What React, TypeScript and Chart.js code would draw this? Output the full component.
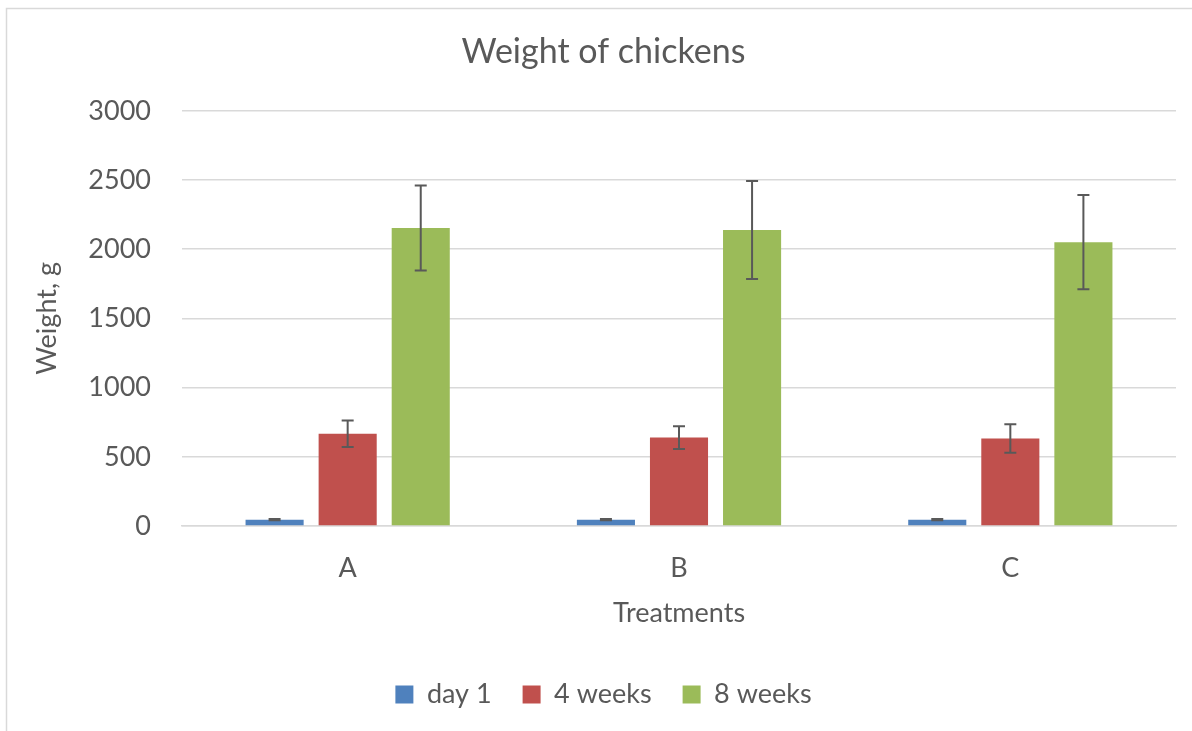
import React, { useEffect, useRef } from "react";
import { Chart, registerables } from "chart.js";

Chart.register(...registerables);

const chartTitle = "Weight of chickens";
const xAxisTitle = "Treatments";
const yAxisTitle = "Weight, g";
const categories = ["A", "B", "C"];
const seriesNames = ["day 1", "4 weeks", "8 weeks"];
const day1Values = [46, 46, 46];
const day1Errors = [4, 4, 4];
const week4Values = [666, 639, 632];
const week4Errors = [96, 82, 103];
const week8Values = [2154, 2138, 2051];
const week8Errors = [307, 354, 341];
const yMin = 0;
const yMax = 3000;
const yStep = 500;
const seriesColors = ["#4F81BD", "#C0504D", "#9BBB59"];

const FONT = "Lato, 'Open Sans', sans-serif";
const TEXT = "#595959";

const errorBarPlugin = {
  id: "errorBars",
  afterDatasetsDraw(chart: any) {
    const ctx = chart.ctx;
    const y = chart.scales.y;
    ctx.save();
    ctx.strokeStyle = "#595959";
    ctx.lineWidth = 2;
    chart.data.datasets.forEach((ds: any, di: number) => {
      const meta = chart.getDatasetMeta(di);
      if (meta.hidden) return;
      meta.data.forEach((bar: any, i: number) => {
        const v = ds.data[i];
        const e = ds.errors[i];
        const top = y.getPixelForValue(v + e);
        const bot = y.getPixelForValue(v - e);
        const x = bar.x;
        const cap = 6;
        ctx.beginPath();
        ctx.moveTo(x, top);
        ctx.lineTo(x, bot);
        ctx.moveTo(x - cap, top);
        ctx.lineTo(x + cap, top);
        ctx.moveTo(x - cap, bot);
        ctx.lineTo(x + cap, bot);
        ctx.stroke();
      });
    });
    ctx.restore();
  },
};

const framePlugin = {
  id: "frame",
  beforeDraw(chart: any) {
    const ctx = chart.ctx;
    ctx.save();
    ctx.fillStyle = "#ffffff";
    ctx.fillRect(0, 0, chart.width, chart.height);
    ctx.strokeStyle = "#D9D9D9";
    ctx.lineWidth = 1.5;
    ctx.beginPath();
    ctx.moveTo(6.5, chart.height);
    ctx.lineTo(6.5, 8.5);
    ctx.lineTo(chart.width, 8.5);
    ctx.stroke();
    ctx.restore();
  },
};

export default function App() {
  const ref = useRef<HTMLCanvasElement | null>(null);

  useEffect(() => {
    if (!ref.current) return;
    const valueSets = [day1Values, week4Values, week8Values];
    const errorSets = [day1Errors, week4Errors, week8Errors];
    const chart = new Chart(ref.current, {
      type: "bar",
      data: {
        labels: categories,
        datasets: seriesNames.map((name, i) => ({
          label: name,
          data: valueSets[i],
          errors: errorSets[i],
          backgroundColor: seriesColors[i],
          borderWidth: 0,
          categoryPercentage: 0.6616,
          barPercentage: 0.795,
        })) as any,
      },
      options: {
        responsive: false,
        animation: false,
        devicePixelRatio: 1,
        layout: { padding: { top: 0, left: 31, right: 16, bottom: 13 } },
        plugins: {
          title: {
            display: true,
            text: chartTitle,
            color: TEXT,
            font: { family: FONT, size: 34, weight: "normal" },
            padding: { top: 32, bottom: 38 },
          },
          legend: {
            position: "bottom",
            labels: {
              color: TEXT,
              font: { family: FONT, size: 27 },
              boxWidth: 18,
              boxHeight: 18,
              padding: 31,
            },
          },
          tooltip: { enabled: false },
        },
        scales: {
          x: {
            grid: { display: false, drawTicks: false },
            border: { display: true, color: "#D9D9D9", width: 1.5 },
            ticks: { color: TEXT, font: { family: FONT, size: 27 }, padding: 26 },
            title: {
              display: true,
              text: xAxisTitle,
              color: TEXT,
              font: { family: FONT, size: 27 },
              padding: { top: 0, bottom: 21 },
            },
            afterFit: (scale: any) => {
              scale.height = 124;
            },
          },
          y: {
            min: yMin,
            max: yMax,
            grid: { color: "#D9D9D9", lineWidth: 1.5, drawTicks: false },
            border: { display: false },
            ticks: {
              stepSize: yStep,
              color: TEXT,
              font: { family: FONT, size: 27 },
              padding: 31,
              callback: (v: any) => String(v),
            },
            title: {
              display: true,
              text: yAxisTitle,
              color: TEXT,
              font: { family: FONT, size: 27 },
              padding: { top: 0, bottom: 0 },
            },
            afterFit: (scale: any) => {
              scale.width = 151;
            },
          },
        },
      } as any,
      plugins: [framePlugin, errorBarPlugin],
    });
    return () => chart.destroy();
  }, []);

  return (
    <div style={{ position: "fixed", left: 0, top: 0, width: 1192, height: 731, overflow: "hidden", background: "#fff" }}>
      <canvas ref={ref} width={1192} height={731} style={{ width: 1192, height: 731, display: "block" }} />
    </div>
  );
}
